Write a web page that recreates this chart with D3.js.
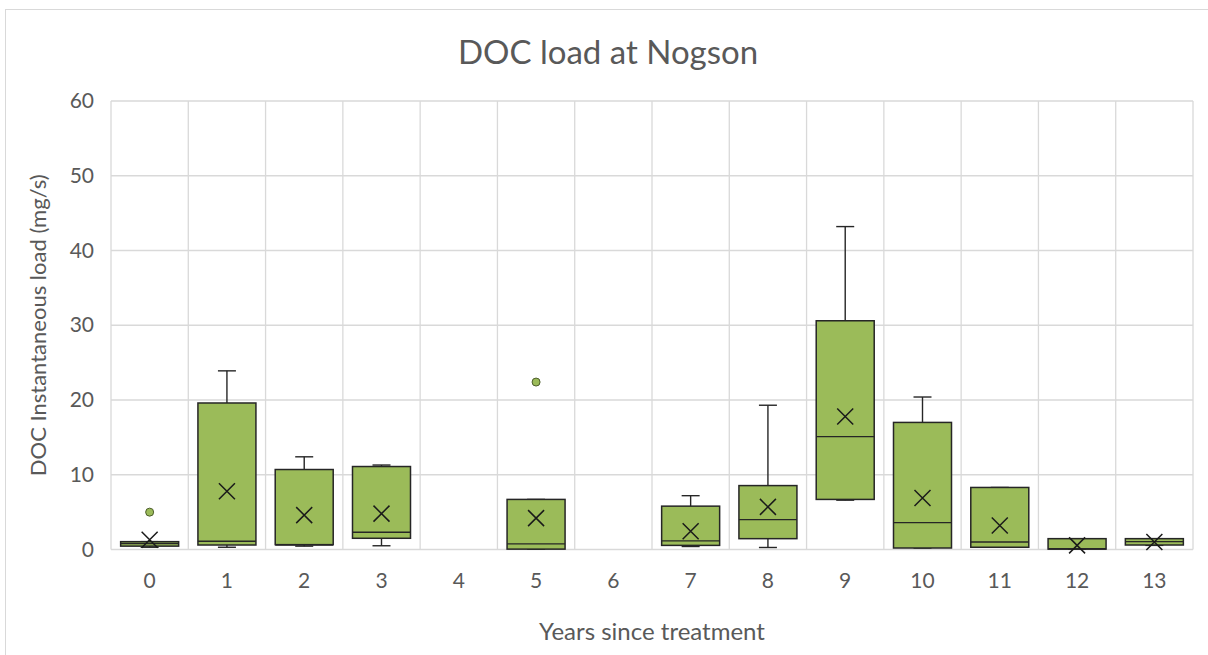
<!DOCTYPE html>
<html>
<head>
<meta charset="utf-8">
<script src="https://cdn.jsdelivr.net/npm/d3@7"></script>
<style>
  body { margin: 0; background: #fff; }
  text { font-family: Lato, "Noto Sans", sans-serif; fill: #595959; }
</style>
</head>
<body>
<div id="chart"></div>
<script>
// years since treatment (4 and 6 have no samples)
const years = ["0","1","2","3","4","5","6","7","8","9","10","11","12","13"];

// box statistics (mg/s)
const whiskerLow  = [0.3, 0.3, 0.45, 0.5, null, 0.05, null, 0.4, 0.27, 6.6, 0.2, 0.3, 0.05, 0.55];
const q1          = [0.45, 0.6, 0.65, 1.5, null, 0.05, null, 0.55, 1.45, 6.7, 0.2, 0.3, 0.05, 0.6];
const median      = [0.8, 1.1, 0.6, 2.3, null, 0.75, null, 1.15, 4.0, 15.1, 3.6, 1.0, 0.1, 1.05];
const q3          = [1.05, 19.6, 10.7, 11.1, null, 6.7, null, 5.8, 8.55, 30.6, 17.0, 8.3, 1.45, 1.45];
const whiskerHigh = [1.05, 23.9, 12.4, 11.3, null, 6.7, null, 7.2, 19.3, 43.2, 20.4, 8.3, 1.45, 1.45];
const means       = [1.3, 7.8, 4.6, 4.8, null, 4.2, null, 2.45, 5.7, 17.8, 6.9, 3.2, 0.55, 1.0];
const outlierYear = ["0", "5"];
const outlierVal  = [5.0, 22.4];

const yTicks = [0, 10, 20, 30, 40, 50, 60];

const W = 1208, H = 655;
const margin = {top: 101, right: 15, bottom: 106, left: 111};
const width = 1193 - margin.left,
      height = 549.5 - margin.top;

const svg = d3.select("#chart")
  .append("svg")
    .attr("width", W)
    .attr("height", H);

// outer chart frame
svg.append("rect")
  .attr("x", 5.5).attr("y", 9.5)
  .attr("width", W + 10).attr("height", H + 10)
  .attr("fill", "none")
  .attr("stroke", "#d9d9d9");

const g = svg.append("g")
  .attr("transform", `translate(${margin.left},${margin.top})`);

const x = d3.scaleBand()
  .domain(years)
  .range([0, width]);

const y = d3.scaleLinear()
  .domain([0, 60])
  .range([height, 0]);

// gridlines
g.append("g")
  .selectAll("line")
  .data(yTicks)
  .join("line")
    .attr("x1", 0).attr("x2", width)
    .attr("y1", d => y(d)).attr("y2", d => y(d))
    .attr("stroke", "#d9d9d9").attr("stroke-width", 1.3);

g.append("g")
  .selectAll("line")
  .data(years.concat(["end"]))
  .join("line")
    .attr("x1", (d, i) => i * x.step()).attr("x2", (d, i) => i * x.step())
    .attr("y1", 0).attr("y2", height)
    .attr("stroke", "#d9d9d9").attr("stroke-width", 1.3);

// y axis labels
const yAxis = g.append("g")
  .call(d3.axisLeft(y).tickValues(yTicks).tickSize(0).tickPadding(17));
yAxis.select(".domain").remove();
yAxis.selectAll("text")
  .style("font-size", "21px")
  .style("font-family", "Lato, 'Noto Sans', sans-serif")
  .attr("fill", "#595959");

// x axis labels
const xAxis = g.append("g")
  .attr("transform", `translate(0,${height})`)
  .call(d3.axisBottom(x).tickSize(0).tickPadding(24));
xAxis.select(".domain").remove();
xAxis.selectAll("text")
  .style("font-size", "21px")
  .style("font-family", "Lato, 'Noto Sans', sans-serif")
  .attr("fill", "#595959");

// boxes
const stats = years.map((yr, i) => ({
  year: yr, lo: whiskerLow[i], q1: q1[i], med: median[i],
  q3: q3[i], hi: whiskerHigh[i], mean: means[i]
})).filter(d => d.q1 !== null);

const boxW = 58, capW = 18, stroke = "#262626";
const boxes = g.append("g")
  .selectAll("g")
  .data(stats)
  .join("g")
    .attr("transform", d => `translate(${x(d.year) + x.bandwidth() / 2},0)`);

// whiskers
boxes.append("line")
  .attr("y1", d => y(d.hi)).attr("y2", d => y(d.q3))
  .attr("stroke", stroke).attr("stroke-width", 1.4);
boxes.append("line")
  .attr("y1", d => y(d.lo)).attr("y2", d => y(d.q1))
  .attr("stroke", stroke).attr("stroke-width", 1.4);
boxes.append("line")
  .attr("x1", -capW / 2).attr("x2", capW / 2)
  .attr("y1", d => y(d.hi)).attr("y2", d => y(d.hi))
  .attr("stroke", stroke).attr("stroke-width", 1.4);
boxes.append("line")
  .attr("x1", -capW / 2).attr("x2", capW / 2)
  .attr("y1", d => y(d.lo)).attr("y2", d => y(d.lo))
  .attr("stroke", stroke).attr("stroke-width", 1.4);

boxes.append("rect")
  .attr("x", -boxW / 2)
  .attr("y", d => y(d.q3))
  .attr("width", boxW)
  .attr("height", d => Math.max(y(d.q1) - y(d.q3), 0.5))
  .attr("fill", "#9bbb59")
  .attr("stroke", stroke).attr("stroke-width", 1.5);

boxes.append("line")
  .attr("x1", -boxW / 2).attr("x2", boxW / 2)
  .attr("y1", d => y(d.med)).attr("y2", d => y(d.med))
  .attr("stroke", stroke).attr("stroke-width", 1.4);

// mean markers
const m = 8;
boxes.append("path")
  .attr("d", d => `M${-m},${y(d.mean) - m}L${m},${y(d.mean) + m}M${m},${y(d.mean) - m}L${-m},${y(d.mean) + m}`)
  .attr("stroke", "#1a1a1a").attr("stroke-width", 1.5)
  .attr("fill", "none");

// outliers
g.append("g")
  .selectAll("circle")
  .data(outlierVal)
  .join("circle")
    .attr("cx", (d, i) => x(outlierYear[i]) + x.bandwidth() / 2)
    .attr("cy", d => y(d))
    .attr("r", 4)
    .attr("fill", "#9bbb59")
    .attr("stroke", "#4d5e2c").attr("stroke-width", 1);

// titles
svg.append("text")
  .attr("x", 608).attr("y", 64)
  .attr("text-anchor", "middle")
  .style("font-size", "33px")
  .text("DOC load at Nogson");

svg.append("text")
  .attr("x", margin.left + width / 2).attr("y", 640)
  .attr("text-anchor", "middle")
  .style("font-size", "24px")
  .text("Years since treatment");

svg.append("text")
  .attr("transform", `translate(46,${margin.top + height / 2}) rotate(-90)`)
  .attr("text-anchor", "middle")
  .style("font-size", "22px")
  .text("DOC Instantaneous load (mg/s)");
</script>
</body>
</html>
